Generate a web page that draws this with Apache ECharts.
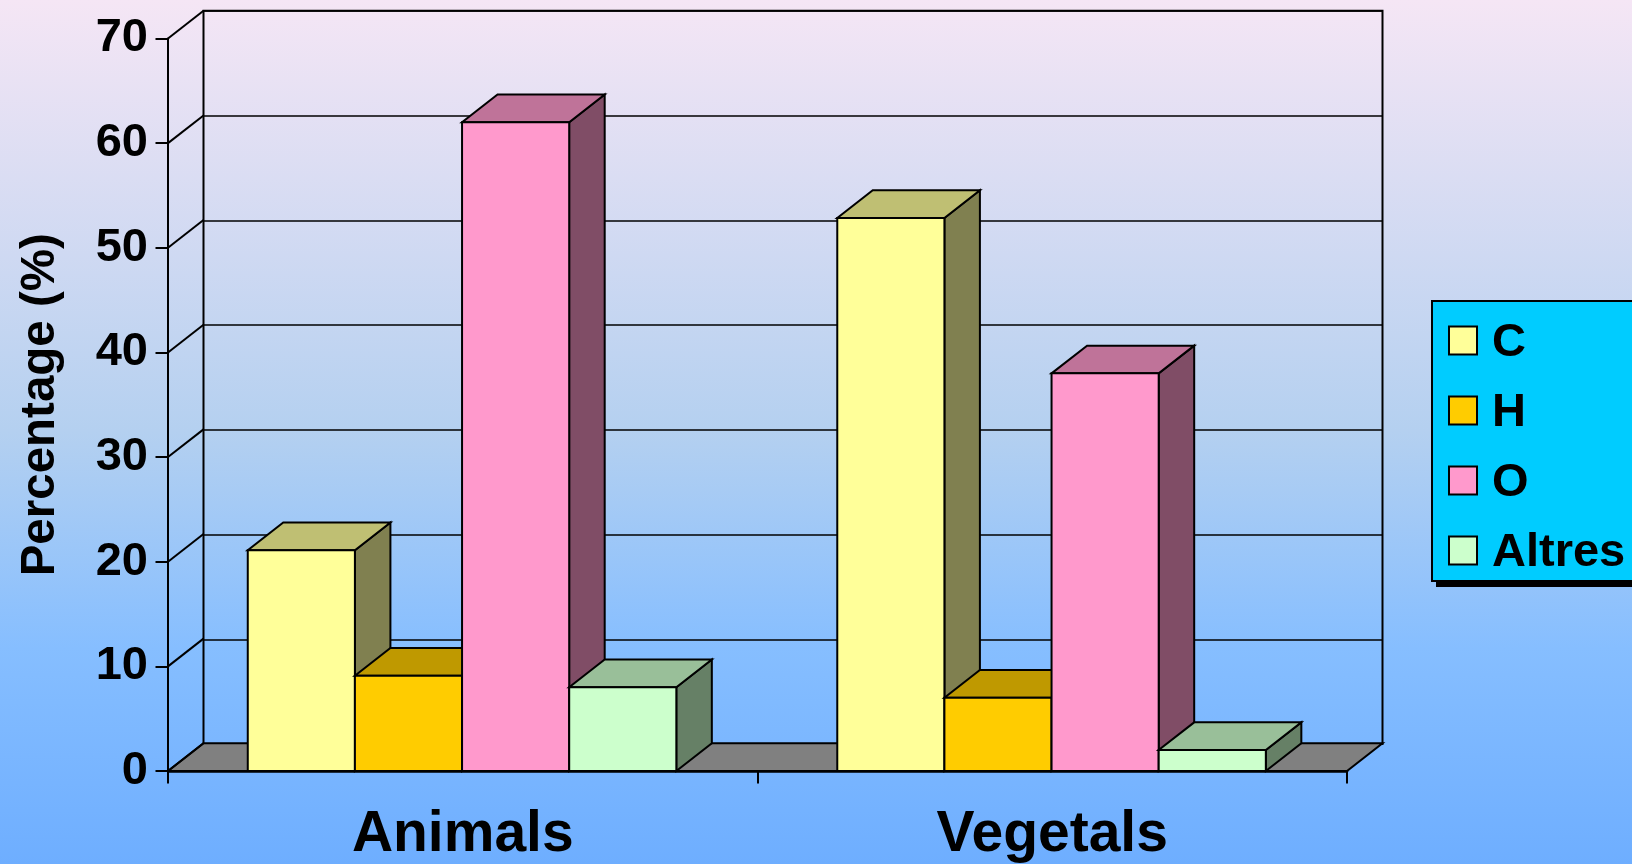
<!DOCTYPE html>
<html><head><meta charset="utf-8">
<style>html,body{margin:0;padding:0;width:1632px;height:864px;overflow:hidden}#c{width:1632px;height:864px}</style>
<script src="https://cdn.jsdelivr.net/npm/echarts@6/dist/echarts.min.js"></script>
</head><body><div id="c"></div>
<script>
const categories = ['Animals', 'Vegetals'];
const seriesNames = ['C', 'H', 'O', 'Altres'];
const cValues = [21.1, 52.85];
const hValues = [9.1, 7];
const oValues = [62, 38];
const altresValues = [8, 2];
const yTicks = [0, 10, 20, 30, 40, 50, 60, 70];
const allValues = [cValues, hValues, oValues, altresValues];
const fronts = ['#FFFF99', '#FFCC00', '#FF99CC', '#CCFFCC'];
const tops = ['#BFBF73', '#BF9900', '#BF7399', '#99BF99'];
const sides = ['#808050', '#806600', '#804D66', '#668066'];
const DX = 35.5, DY = 27.7, CAT_FILL = 0.727, BAR_SHIFT = -0.7;
const F = '"Liberation Sans", Arial, sans-serif';
const chart = echarts.init(document.getElementById('c'), null, {renderer: 'canvas'});

function barSeries(k) {
  return {
    name: seriesNames[k], type: 'custom', xAxisIndex: 0, yAxisIndex: 0, z: 5 + k,
    itemStyle: {color: fronts[k]},
    data: allValues[k].map((v, i) => [i, v]),
    encode: {x: 0, y: 1},
    renderItem(params, api) {
      const c = api.value(0), v = api.value(1);
      const bw = api.size([1, 0])[0] * CAT_FILL / 4;
      const base = api.coord([c, 0]), top = api.coord([c, v]);
      const x0 = base[0] + BAR_SHIFT - 2 * bw + k * bw, x1 = x0 + bw, y0 = base[1], y1 = top[1];
      const st = f => ({fill: f, stroke: '#000', lineWidth: 2, lineJoin: 'miter'});
      return {type: 'group', children: [
        {type: 'polygon', shape: {points: [[x1, y0], [x1 + DX, y0 - DY], [x1 + DX, y1 - DY], [x1, y1]]}, style: st(sides[k])},
        {type: 'polygon', shape: {points: [[x0, y1], [x1, y1], [x1 + DX, y1 - DY], [x0 + DX, y1 - DY]]}, style: st(tops[k])},
        {type: 'rect', shape: {x: x0, y: y1, width: bw, height: y0 - y1}, style: st(fronts[k])}
      ]};
    }
  };
}

chart.setOption({
  animation: false,
  backgroundColor: {type: 'linear', x: 0, y: 0, x2: 0, y2: 1, colorStops: [
    {offset: 0, color: '#F5E6F5'}, {offset: 0.5, color: '#B4D0F0'}, {offset: 0.75, color: '#86BEFF'}, {offset: 1, color: '#6EAEFF'}]},
  grid: [
    {left: 168, top: 38.5, width: 1179, height: 733.2},
    {left: 203.5, top: 10.8, width: 1179, height: 733.2, show: true, borderColor: '#000', borderWidth: 2, backgroundColor: 'transparent'}
  ],
  xAxis: [
    {type: 'category', gridIndex: 0, data: categories,
     axisLine: {lineStyle: {color: '#000', width: 2.5}},
     axisTick: {show: true, length: 12.5, lineStyle: {color: '#000', width: 2}},
     axisLabel: {color: '#000', fontFamily: F, fontWeight: 'bold', fontSize: 57, margin: 36}},
    {type: 'category', gridIndex: 1, data: categories, show: false}
  ],
  yAxis: [
    {type: 'value', gridIndex: 0, min: 0, max: 70, interval: 10,
     name: 'Percentage (%)', nameLocation: 'middle', nameRotate: 90, nameGap: 103,
     nameTextStyle: {color: '#000', fontFamily: F, fontWeight: 'bold', fontSize: 47.5},
     axisLine: {show: true, lineStyle: {color: '#000', width: 2}},
     axisTick: {show: true, length: 12.5, lineStyle: {color: '#000', width: 2}},
     axisLabel: {color: '#000', fontFamily: F, fontWeight: 'bold', fontSize: 47, margin: 20, padding: [4, 0, 0, 0]},
     splitLine: {show: false}},
    {type: 'value', gridIndex: 1, min: 0, max: 70, interval: 10,
     axisLine: {show: false}, axisTick: {show: false}, axisLabel: {show: false},
     splitLine: {show: true, lineStyle: {color: '#000', width: 1.5}}}
  ],
  legend: {
    left: 1432, top: 301, orient: 'vertical', selectedMode: false, z: 4,
    data: seriesNames, icon: 'rect', itemWidth: 28, itemHeight: 28, itemGap: 23,
    padding: [19, 40, 4, 16],
    backgroundColor: '#00CCFF', borderColor: '#000', borderWidth: 2,
    itemStyle: {borderColor: '#000', borderWidth: 2},
    formatter: '{a|{name}}',
    textStyle: {color: '#000', fontFamily: F, fontWeight: 'bold', fontSize: 47,
      rich: {a: {color: '#000', fontFamily: F, fontWeight: 'bold', fontSize: 47, padding: [6, 0, 0, 10]}}}
  },
  graphic: [{type: 'rect', z: 3, silent: true, shape: {x: 1436, y: 307, width: 220, height: 280}, style: {fill: '#000'}}],
  series: [
    {type: 'custom', xAxisIndex: 0, yAxisIndex: 0, z: 3, silent: true,
     data: [[0, 0]],
     renderItem(params, api) {
       const o0 = api.coord([0, 0]);
       const w = api.size([1, 0])[0] * categories.length;
       const x0 = o0[0] - w / (2 * categories.length), y0 = o0[1];
       return {type: 'polygon',
         shape: {points: [[x0, y0], [x0 + w, y0], [x0 + w + DX, y0 - DY], [x0 + DX, y0 - DY]]},
         style: {fill: '#808080', stroke: '#000', lineWidth: 2}};
     }},
    {type: 'custom', xAxisIndex: 0, yAxisIndex: 0, z: 4, silent: true,
     data: yTicks.map(t => [0, t]),
     renderItem(params, api) {
       const p = api.coord([0, api.value(1)]);
       const x0 = p[0] - api.size([1, 0])[0] / 2;
       return {type: 'line', shape: {x1: x0, y1: p[1], x2: x0 + DX, y2: p[1] - DY},
         style: {stroke: '#000', lineWidth: 2}};
     }},
    barSeries(0), barSeries(1), barSeries(2), barSeries(3)
  ]
});
</script></body></html>
